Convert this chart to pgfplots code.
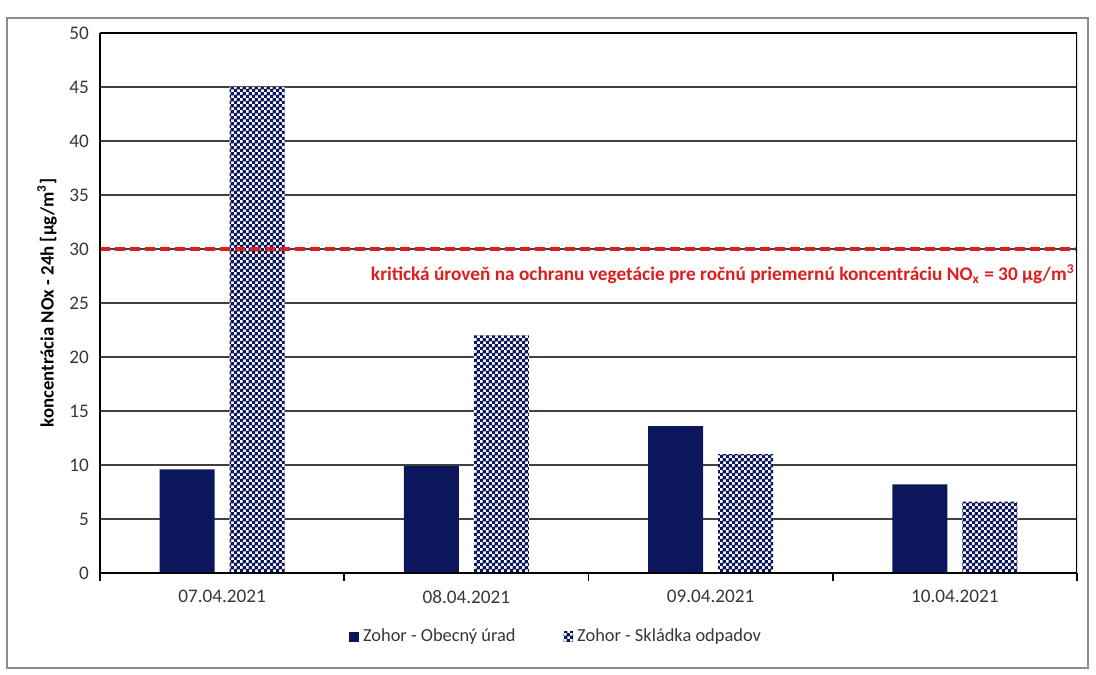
\documentclass[border=0pt]{standalone}
\usepackage{fontspec}
\setmainfont{Carlito}
\usepackage{pgfplots}
\pgfplotsset{compat=1.18}
\usetikzlibrary{patterns.meta}
\definecolor{navy}{RGB}{12,22,92}
\definecolor{redline}{RGB}{222,30,30}
\definecolor{labgray}{RGB}{55,55,55}
\tikzdeclarepattern{
  name=finecheck,
  type=uncolored,
  bottom left={(0pt,0pt)},
  top right={(3pt,3pt)},
  tile size={(3pt,3pt)},
  code={
    \pgfpathrectangle{\pgfpointorigin}{\pgfpoint{1.85pt}{1.85pt}}
    \pgfpathrectangle{\pgfpoint{1.5pt}{1.5pt}}{\pgfpoint{1.85pt}{1.85pt}}
    \pgfusepath{fill}
  }
}
\begin{document}
\begin{tikzpicture}
\path[use as bounding box] (0,0) rectangle (548pt,337pt);
\draw[black!45, line width=0.8pt] (3.5pt,3pt) rectangle (544pt,328pt);
\begin{axis}[
  at={(50pt,50.5pt)}, anchor=south west,
  scale only axis,
  width=488.5pt, height=270pt,
  xmin=-0.5, xmax=3.5,
  ymin=0, ymax=50,
  axis x line*=bottom,
  axis y line*=left,
  ytick distance=5,
  ytick style={draw=none},
  xtick={0,1,2,3},
  xticklabels={07.04.2021,08.04.2021,09.04.2021,10.04.2021},
  xtick style={draw=none},
  extra x ticks={-0.5,0.5,1.5,2.5,3.5},
  extra x tick labels={},
  extra x tick style={xtick style={draw=black, line width=0.8pt}, tick align=outside, major tick length=4pt, grid=none},
  ymajorgrids,
  major grid style={black!75, line width=0.6pt},
  axis line style={black, line width=0.9pt, -},
  /pgf/number format/assume math mode=true,
  tick label style={font=\fontsize{9.6}{11}\selectfont, text=labgray},
  yticklabel style={xshift=-2pt},
  xticklabel style={yshift=-5pt},
  ylabel={\textbf{koncentrácia NOx - 24h [µg/m\textsuperscript{3}]}},
  every axis y label/.style={at={(rel axis cs:0,0.5)}, xshift=-26.5pt, rotate=90, anchor=center, font=\fontsize{9.4}{11}\selectfont},
  legend style={at={(rel axis cs:0.468,-0.118)}, anchor=center, draw=none, fill=none, legend columns=2, font=\fontsize{9.2}{11}\selectfont, text=labgray,
    /tikz/every even column/.append style={column sep=22pt}},
  legend image code/.code={\path[#1, draw=none] (0pt,-2.4pt) rectangle (4.8pt,2.4pt);},
]
\addplot[ybar, bar width=0.225, bar shift=-0.143, fill=navy, draw=none]
  coordinates {(0,9.6) (1,9.9) (2,13.6) (3,8.2)};
\addlegendentry{Zohor - Obecný úrad}
\addplot[ybar, bar width=0.225, bar shift=0.143, fill=white, draw=none, postaction={pattern={finecheck}, pattern color=navy}]
  coordinates {(0,45.0) (1,22.0) (2,11.0) (3,6.6)};
\addlegendentry{Zohor - Skládka odpadov}
\addplot[redline, line width=2pt, dash pattern=on 5pt off 2.5pt, forget plot]
  coordinates {(-0.5,30) (3.5,30)};
\draw[black, line width=0.9pt] (rel axis cs:0,0) rectangle (rel axis cs:1,1);
\node[anchor=north east, text=redline, inner sep=1pt, font=\fontsize{9.65}{11}\selectfont\bfseries] at (axis cs:3.5,28.8)
  {kritická úroveň na ochranu vegetácie pre ročnú priemernú koncentráciu NO\textsubscript{x} = 30 µg/m\textsuperscript{3}};
\end{axis}
\end{tikzpicture}
\end{document}
